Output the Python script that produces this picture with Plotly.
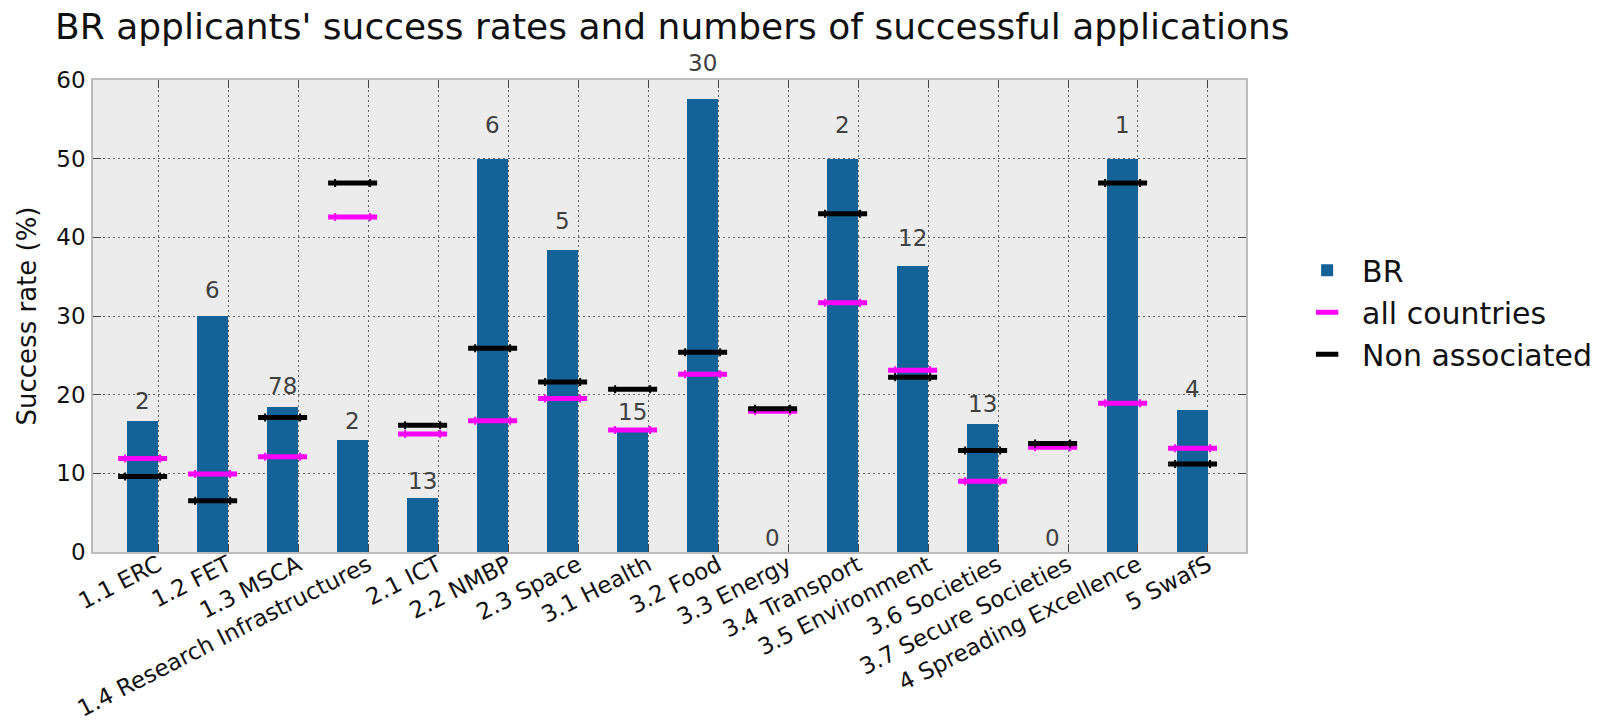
import plotly.graph_objects as go

categories = ["1.1 ERC", "1.2 FET", "1.3 MSCA", "1.4 Research Infrastructures", "2.1 ICT",
              "2.2 NMBP", "2.3 Space", "3.1 Health", "3.2 Food", "3.3 Energy", "3.4 Transport",
              "3.5 Environment", "3.6 Societies", "3.7 Secure Societies", "4 Spreading Excellence",
              "5 SwafS"]
br_rate = [16.67, 30.0, 18.4, 14.2, 6.9, 50.0, 38.4, 15.3, 57.6, 0.0, 50.0, 36.3, 16.3, 0.0, 50.0, 18.1]
all_countries = [11.9, 9.9, 12.1, 42.6, 15.0, 16.7, 19.5, 15.5, 22.6, 17.9, 31.7, 23.1, 9.0, 13.3, 18.9, 13.2]
non_associated = [9.6, 6.5, 17.1, 46.9, 16.1, 25.9, 21.6, 20.7, 25.4, 18.2, 43.0, 22.2, 12.9, 13.8, 46.9, 11.2]
successful = [2, 6, 78, 2, 13, 6, 5, 15, 30, 0, 2, 12, 13, 0, 1, 4]
y_ticks = [0, 10, 20, 30, 40, 50, 60]

FONT = "DejaVu Sans"
BAR_W = 0.44
PX_PER_UNIT = 472 / 60.0
idx = list(range(len(categories)))
centers = [i - BAR_W / 2 for i in idx]

fig = go.Figure()
fig.add_trace(go.Bar(
    x=idx, y=br_rate, width=BAR_W, offset=-BAR_W, name="BR",
    marker=dict(color="#136399", line=dict(width=0)),
))
fig.add_trace(go.Scatter(
    x=centers, y=all_countries, mode="markers", name="all countries",
    marker=dict(symbol="line-ew", size=35, color="#ff00ff", line=dict(width=5, color="#ff00ff")),
    error_x=dict(type="constant", value=0.25, thickness=2, width=4, color="#ff00ff"),
))
fig.add_trace(go.Scatter(
    x=centers, y=non_associated, mode="markers", name="Non associated",
    marker=dict(symbol="line-ew", size=35, color="#000000", line=dict(width=5, color="#000000")),
    error_x=dict(type="constant", value=0.25, thickness=2, width=4, color="#000000"),
))

# count labels sit slightly above each bar (gap grows a little with bar height)
for c, h, n in zip(centers, br_rate, successful):
    fig.add_annotation(x=c, y=h, text=str(n), showarrow=False,
                       xanchor="center", yanchor="bottom",
                       yshift=(0.05 * h + 0.6) * PX_PER_UNIT - 6,
                       font=dict(family=FONT, size=23, color="#404040"))

fig.update_layout(
    width=1612, height=725,
    margin=dict(l=93, r=366, t=80, b=173, autoexpand=False),
    paper_bgcolor="white", plot_bgcolor="#ececec",
    font=dict(family=FONT, color="#222222"),
    title=dict(text="BR applicants' success rates and numbers of successful applications",
               x=55 / 1612, xanchor="left", xref="container",
               y=1 - 26 / 725, yanchor="middle", yref="container",
               font=dict(family=FONT, size=36, color="#111111")),
    showlegend=True,
    legend=dict(x=1.04, xanchor="left", y=0.508, yanchor="middle",
                font=dict(family=FONT, size=30, color="#111111"),
                bgcolor="rgba(0,0,0,0)", itemwidth=60, tracegroupgap=0),
    bargap=0,
)
fig.update_xaxes(
    range=[-0.929, 15.543], tickmode="array", tickvals=idx, ticktext=categories,
    tickangle=-27, tickfont=dict(family=FONT, size=23, color="#111111"),
    ticks="inside", ticklen=8, tickcolor="#444444", tickwidth=1,
    showgrid=True, gridcolor="#666666", griddash="2px,3px", gridwidth=1,
    showline=True, linecolor="#bcbcbc", linewidth=1.5, mirror="ticks",
    zeroline=False, ticklabelstandoff=-11, automargin=False,
)
fig.update_yaxes(
    range=[0, 60], tickmode="array", tickvals=y_ticks,
    tickfont=dict(family=FONT, size=23, color="#111111"),
    ticks="inside", ticklen=8, tickcolor="#444444", tickwidth=1,
    showgrid=True, gridcolor="#666666", griddash="2px,3px", gridwidth=1,
    showline=True, linecolor="#bcbcbc", linewidth=1.5, mirror="ticks",
    zeroline=False, ticklabelstandoff=1, automargin=False,
    title=dict(text="Success rate (%)", font=dict(family=FONT, size=26, color="#111111"), standoff=12),
)

fig.write_html("out.html")
